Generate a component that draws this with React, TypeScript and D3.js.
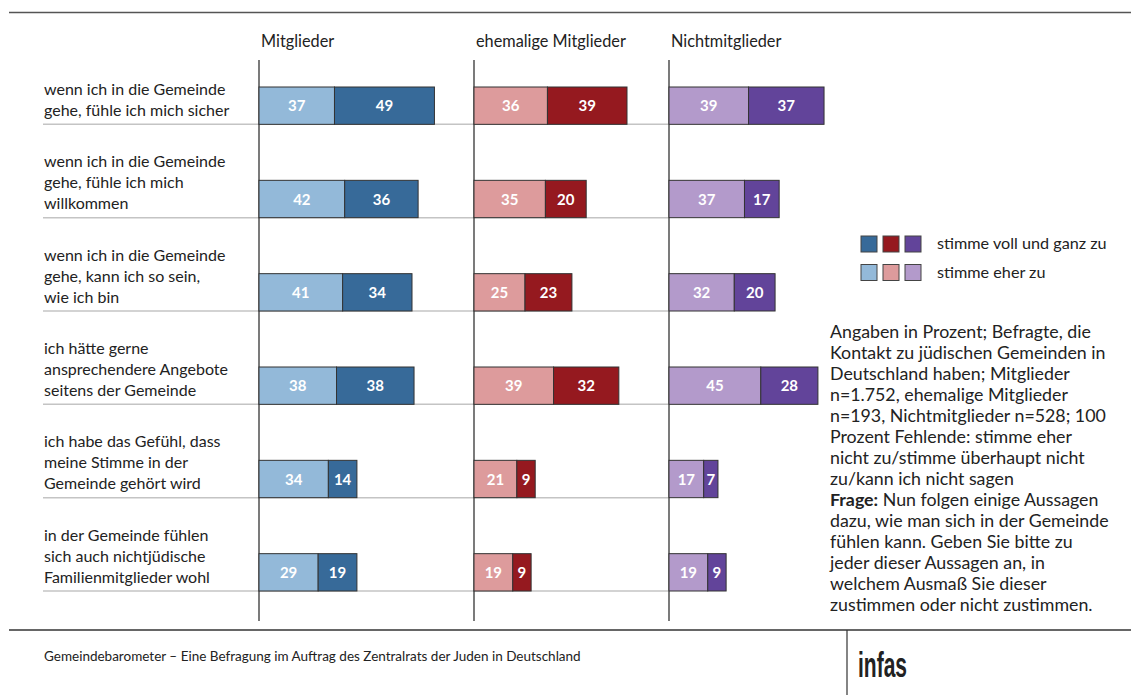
import React from "react";
import * as d3 from "d3";

const statements: string[][] = [
  ["wenn ich in die Gemeinde", "gehe, fühle ich mich sicher"],
  ["wenn ich in die Gemeinde", "gehe, fühle ich mich", "willkommen"],
  ["wenn ich in die Gemeinde", "gehe, kann ich so sein,", "wie ich bin"],
  ["ich hätte gerne", "ansprechendere Angebote", "seitens der Gemeinde"],
  ["ich habe das Gefühl, dass", "meine Stimme in der", "Gemeinde gehört wird"],
  ["in der Gemeinde fühlen", "sich auch nichtjüdische", "Familienmitglieder wohl"],
];
const groups = ["Mitglieder", "ehemalige Mitglieder", "Nichtmitglieder"];
// stimme eher zu
const eherZu: number[][] = [
  [37, 42, 41, 38, 34, 29],
  [36, 35, 25, 39, 21, 19],
  [39, 37, 32, 45, 17, 19],
];
// stimme voll und ganz zu
const vollZu: number[][] = [
  [49, 36, 34, 38, 14, 19],
  [39, 20, 23, 32, 9, 9],
  [37, 17, 20, 28, 7, 9],
];
const lightColors = ["#93b9d9", "#dd9b9c", "#b39acb"];
const darkColors = ["#376a99", "#95191f", "#62449a"];
const legendLabels = ["stimme voll und ganz zu", "stimme eher zu"];
const noteLines = [
  "Angaben in Prozent; Befragte, die",
  "Kontakt zu jüdischen Gemeinden in",
  "Deutschland haben; Mitglieder",
  "n=1.752, ehemalige Mitglieder",
  "n=193, Nichtmitglieder n=528; 100",
  "Prozent Fehlende: stimme eher",
  "nicht zu/stimme überhaupt nicht",
  "zu/kann ich nicht sagen",
];
const frageLines = [
  "Nun folgen einige Aussagen",
  "dazu, wie man sich in der Gemeinde",
  "fühlen kann. Geben Sie bitte zu",
  "jeder dieser Aussagen an, in",
  "welchem Ausmaß Sie dieser",
  "zustimmen oder nicht zustimmen.",
];
const footerText =
  "Gemeindebarometer – Eine Befragung im Auftrag des Zentralrats der Juden in Deutschland";

const W = 1131;
const H = 695;
const FONT = "Lato, 'Open Sans', sans-serif";

export default function App() {
  const groupX = [259, 474, 669];
  const x = d3.scaleLinear().domain([0, 100]).range([0, 204]);
  const y = d3
    .scaleBand<number>()
    .domain(d3.range(statements.length))
    .range([59, 619])
    .paddingInner(0.6)
    .paddingOuter(0.3);
  const bh = y.bandwidth();

  return (
    <svg width={W} height={H} style={{ position: "absolute", left: 0, top: 0 }} fontFamily={FONT}>
      <rect x={0} y={0} width={W} height={H} fill="#fff" />
      <line x1={9} x2={W} y1={12.5} y2={12.5} stroke="#555" strokeWidth={1.5} />
      {groups.map((g, gi) => (
        <text key={g} x={groupX[gi] + 2} y={46.5} fontSize={16.3} fill="#222">
          {g}
        </text>
      ))}
      {statements.map((lines, i) => {
        const yb = (y(i) as number) + bh;
        return (
          <g key={i}>
            <line x1={43} x2={668} y1={yb} y2={yb} stroke="#c4c4c4" strokeWidth={1.5} />
            {lines.map((l, li) => (
              <text
                key={li}
                x={44}
                y={yb - 8.5 - (lines.length - 1 - li) * 21}
                fontSize={16}
                fill="#222"
              >
                {l}
              </text>
            ))}
          </g>
        );
      })}
      {groupX.map((gx, gi) => (
        <line key={gi} x1={gx} x2={gx} y1={60} y2={621} stroke="#222" strokeWidth={1.2} />
      ))}
      {groups.map((g, gi) =>
        statements.map((_, i) => {
          const y0 = y(i) as number;
          const a = eherZu[gi][i];
          const b = vollZu[gi][i];
          const x0 = groupX[gi];
          return (
            <g key={g + i}>
              <rect x={x0} y={y0} width={x(a)} height={bh} fill={lightColors[gi]} stroke="#333" strokeWidth={1} />
              <rect x={x0 + x(a)} y={y0} width={x(b)} height={bh} fill={darkColors[gi]} stroke="#333" strokeWidth={1} />
              <text x={x0 + x(a) / 2} y={y0 + bh / 2 + 5.5} textAnchor="middle" fontSize={15} fontWeight="bold" fill="#fff">
                {a}
              </text>
              <text x={x0 + x(a) + x(b) / 2} y={y0 + bh / 2 + 5.5} textAnchor="middle" fontSize={15} fontWeight="bold" fill="#fff">
                {b}
              </text>
            </g>
          );
        })
      )}
      {legendLabels.map((lab, li) => {
        const cols = li === 0 ? darkColors : lightColors;
        const ly = 236 + li * 28.5;
        return (
          <g key={lab}>
            {cols.map((c, ci) => (
              <rect key={ci} x={861 + ci * 22} y={ly} width={16} height={16} fill={c} stroke="#444" strokeWidth={1} />
            ))}
            <text x={937} y={ly + 13} fontSize={16.2} fill="#222">
              {lab}
            </text>
          </g>
        );
      })}
      <g fontSize={17.8} fill="#222">
        {noteLines.map((l, i) => (
          <text key={i} x={830} y={337.5 + i * 21}>
            {l}
          </text>
        ))}
        {frageLines.map((l, i) => (
          <text key={"f" + i} x={830} y={337.5 + (noteLines.length + i) * 21}>
            {i === 0 ? (
              <>
                <tspan fontWeight="bold">Frage:</tspan> {l}
              </>
            ) : (
              l
            )}
          </text>
        ))}
      </g>
      <line x1={9} x2={W} y1={630} y2={630} stroke="#333" strokeWidth={1.5} />
      <line x1={847} x2={847} y1={630} y2={H} stroke="#333" strokeWidth={1.2} />
      <text x={44} y={661} fontSize={13.5} fill="#222">
        {footerText}
      </text>
      <text
        transform="translate(858,677) scale(0.6,1)"
        fontSize={35}
        fontWeight="bold"
        fill="#222"
        fontFamily="'Liberation Sans', Arial, sans-serif"
      >
        infas
      </text>
    </svg>
  );
}
